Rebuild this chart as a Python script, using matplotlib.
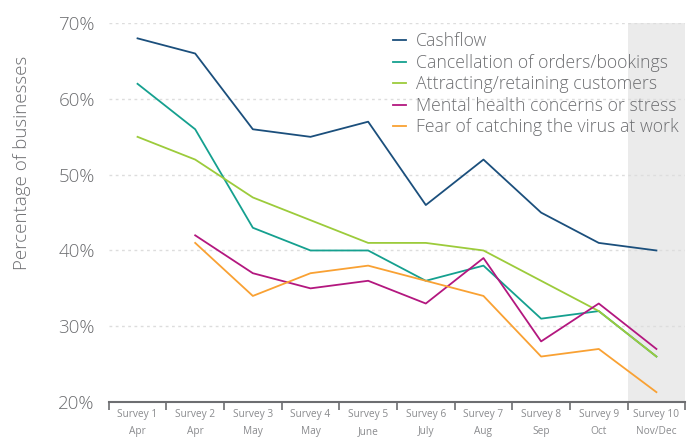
import matplotlib
matplotlib.use("Agg")
import matplotlib.pyplot as plt
import numpy as np

plt.rcParams['font.family'] = ['Open Sans', 'DejaVu Sans']

surveys = ["Survey 1", "Survey 2", "Survey 3", "Survey 4", "Survey 5",
           "Survey 6", "Survey 7", "Survey 8", "Survey 9", "Survey 10"]
months = ["Apr", "Apr", "May", "May", "June", "July", "Aug", "Sep", "Oct", "Nov/Dec"]

cashflow = [68, 66, 56, 55, 57, 46, 52, 45, 41, 40]
cancellation = [62, 56, 43, 40, 40, 36, 38, 31, 32, 26]
attracting = [55, 52, 47, 44, 41, 41, 40, 36, 32, 26]
mental = [np.nan, 42, 37, 35, 36, 33, 39, 28, 33, 27]
fear = [np.nan, 41, 34, 37, 38, 36, 34, 26, 27, 21.3]

series = [
    ("Cashflow", cashflow, "#1b4f7c"),
    ("Cancellation of orders/bookings", cancellation, "#15a08f"),
    ("Attracting/retaining customers", attracting, "#9ccb3b"),
    ("Mental health concerns or stress", mental, "#b3177f"),
    ("Fear of catching the virus at work", fear, "#f9a133"),
]

grey = "#6d6e71"
fig = plt.figure(figsize=(6.88, 4.42), dpi=100)
ax = fig.add_axes([0.158, 0.0905, 0.838, 0.857])

x = np.arange(len(surveys))
ax.axvspan(8.5, 9.5, color="#ebebeb", zorder=0, lw=0)

for label, vals, col in series:
    ax.plot(x, vals, color=col, lw=1.3, label=label, zorder=3)

ax.set_xlim(-0.5, 9.5)
ax.set_ylim(20, 70)
ax.set_yticks(range(20, 71, 10))
ax.set_yticklabels([f"{v}%" for v in range(20, 71, 10)], color=grey,
                   fontsize=13.5, fontweight="light")
ax.set_xticks(x)
ax.set_xticklabels([f"{s}\n{m}" for s, m in zip(surveys, months)],
                   color="#8a8b8e", fontsize=7.3, linespacing=1.75)
ax.set_xticks(np.arange(-0.5, 10, 1), minor=True)
ax.tick_params(axis="x", which="major", length=0, pad=5)
ax.tick_params(axis="x", which="minor", length=6, width=1.2, color=grey)
ax.tick_params(axis="y", length=0, pad=10)

for v in range(30, 71, 10):
    ax.axhline(v, color="#dddddd", lw=1, ls=(0, (2, 2.5)), zorder=1)

for s in ["top", "right", "left"]:
    ax.spines[s].set_visible(False)
ax.spines["bottom"].set_color(grey)
ax.spines["bottom"].set_linewidth(1.5)

ax.set_ylabel("Percentage of businesses", color=grey, fontsize=13.5,
              fontweight="light")
ax.yaxis.set_label_coords(-0.134, 0.63)

ax.legend(loc="upper left", bbox_to_anchor=(0.48, 0.995), frameon=False,
          prop={"size": 12.7, "weight": "light"}, labelcolor=grey,
          handlelength=0.75, handletextpad=0.6,
          labelspacing=0.2, borderaxespad=0)

fig.savefig("out.png", dpi=100)
